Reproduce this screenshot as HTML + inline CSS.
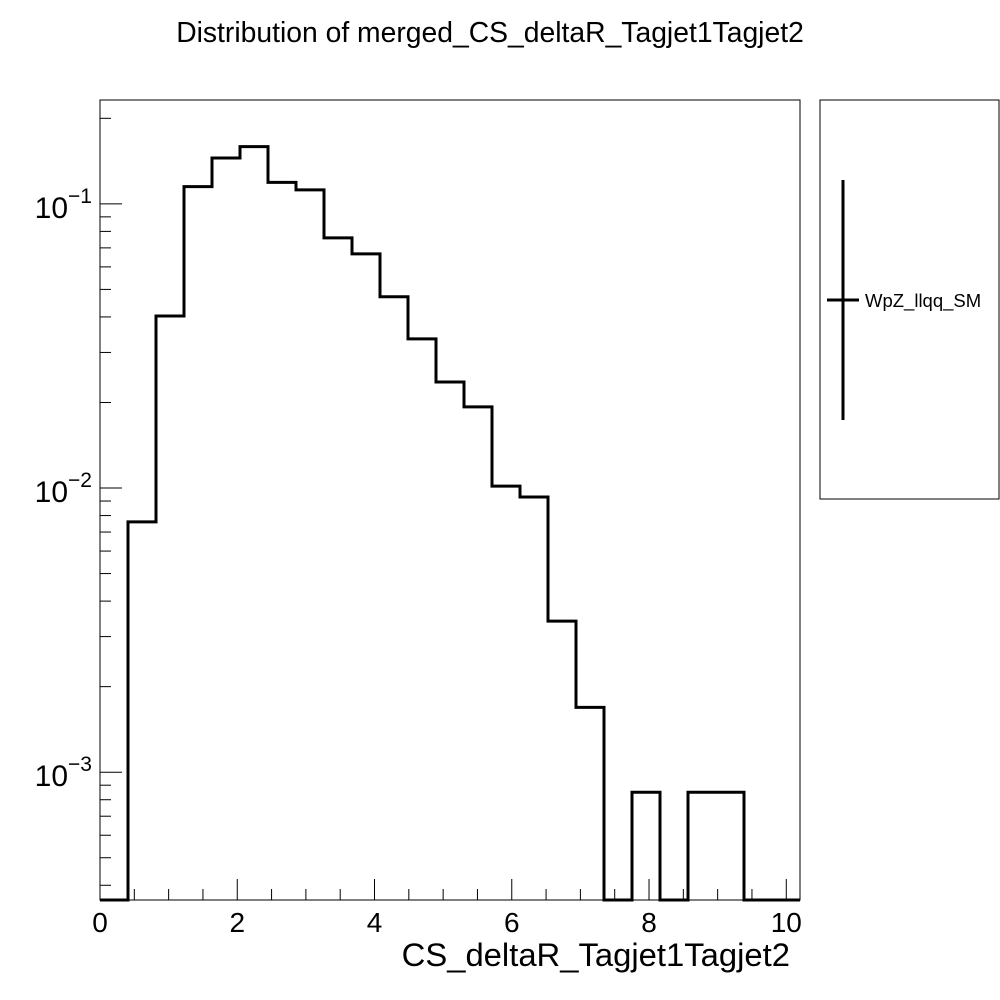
<!DOCTYPE html>
<html><head><meta charset="utf-8"><style>
html,body{margin:0;padding:0;background:#fff;width:1000px;height:1000px;overflow:hidden}
svg{font-family:"Liberation Sans",sans-serif}
</style></head><body>
<svg id="chart" width="1000" height="1000">
<text x="490" y="42" font-size="28.3" text-anchor="middle">Distribution of merged_CS_deltaR_Tagjet1Tagjet2</text>
<rect x="100" y="100" width="700" height="800" fill="none" stroke="#000" stroke-width="1"/>
<g id="axes"></g>
<path id="hist" fill="none" stroke="#000" stroke-width="3"/>
<text x="790" y="966" font-size="32.8" text-anchor="end">CS_deltaR_Tagjet1Tagjet2</text>
<g>
<rect x="820" y="100" width="179" height="399" fill="#fff" stroke="#000" stroke-width="1"/>
<line x1="843" y1="180" x2="843" y2="420" stroke="#000" stroke-width="3"/>
<line x1="827" y1="300" x2="859" y2="300" stroke="#000" stroke-width="3"/>
<text x="865" y="307" font-size="18.5">WpZ_llqq_SM</text>
</g>
</svg>
<script>
const axisMin = 0, axisMax = 10.2;
const binEdgesMin = 0, binEdgesMax = 10.2;
const binValues = [0,0.0076,0.0403,0.115,0.145,0.159,0.119,0.112,0.0759,0.0667,0.0471,0.0335,0.0236,0.0193,0.01015,0.0093,0.0034,0.00169,0,0.00085,0,0.00085,0.00085,0,0];
const xTicks = [0,2,4,6,8,10];
const yDecades = [-3,-2,-1];
const yMin = 3.55e-4, yMax = 0.232;
const L=100,R=800,T=100,B=900;
const sx=v=>L+(v-axisMin)/(axisMax-axisMin)*(R-L);
const sy=v=>{if(v<=yMin)return B;const ly=Math.log10(v);return B-(ly-Math.log10(yMin))/(Math.log10(yMax)-Math.log10(yMin))*(B-T);};
const NS="http://www.w3.org/2000/svg";
const ax=document.getElementById('axes');
function line(x1,y1,x2,y2,name){const l=document.createElementNS(NS,'line');l.setAttribute('x1',x1);l.setAttribute('y1',y1);l.setAttribute('x2',x2);l.setAttribute('y2',y2);l.setAttribute('stroke','#000');l.setAttribute('stroke-width','1');


ax.appendChild(l);}
function text(x,y,s,anchor,name,size){const t=document.createElementNS(NS,'text');t.setAttribute('x',x);t.setAttribute('y',y);t.setAttribute('font-size',size||28);t.setAttribute('text-anchor',anchor);t.innerHTML=s;


ax.appendChild(t);return t;}
for(let v=0;v<=axisMax+0.001;v+=0.5){const major=Math.abs(v/2-Math.round(v/2))<1e-6;line(sx(v),B,sx(v),B-(major?21:11),major?'x-major-tick':'x-minor-tick');}
xTicks.forEach(v=>text(sx(v),B+32,v,'middle','x-tick-label',28));
yDecades.forEach(d=>{const y=sy(Math.pow(10,d));line(L,y,L+22,y,'y-major-tick');
text(L-8,y+14,'10<tspan dy="-15" font-size="21">'+(d<0?'\u2212':'')+Math.abs(d)+'</tspan>','end','y-tick-label',30);});
for(let d=-4;d<=0;d++)for(let m=2;m<=9;m++){const v=m*Math.pow(10,d);if(v<yMin||v>yMax)continue;line(L,sy(v),L+11,sy(v),'y-minor-tick');}
const w=(binEdgesMax-binEdgesMin)/binValues.length;
let p='M'+sx(binEdgesMin)+','+B;
binValues.forEach((v,i)=>{const y=sy(v);p+=' L'+sx(binEdgesMin+i*w)+','+y+' L'+sx(binEdgesMin+(i+1)*w)+','+y;});
document.getElementById('hist').setAttribute('d',p);
</script>
</body></html>
